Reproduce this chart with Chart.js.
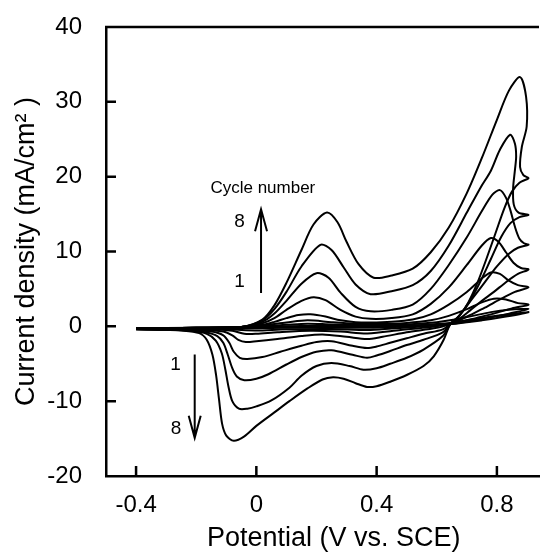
<!DOCTYPE html>
<html>
<head>
<meta charset="utf-8">
<script src="https://cdn.jsdelivr.net/npm/chart.js@4.4.1/dist/chart.umd.min.js"></script>
<style>
  html, body { margin: 0; padding: 0; background: #fff; }
  #wrap { width: 547px; height: 557px; }
</style>
</head>
<body>
<div id="wrap"><canvas id="cvChart" width="547" height="557"></canvas></div>
<script>
// potential (V vs. SCE), current density (mA/cm2) - one closed sweep per cycle
var cycle1 = [[-0.4,-0.25],[-0.2,-0.2],[0.0,-0.1],[0.1,0.0],[0.2,0.05],[0.4,0.05],[0.5,0.1],[0.6,0.3],[0.66,0.55],[0.72,0.9],[0.78,1.3],[0.84,1.6],[0.905,1.9],
  [0.83,1.3],[0.75,0.8],[0.645,0.3],[0.5,0.0],[0.37,-0.2],[0.2,-0.15],[0.0,-0.25],[-0.1,-0.25],[-0.4,-0.25]];
var cycle2 = [[-0.4,-0.3],[-0.2,-0.2],[-0.05,-0.1],[0.02,0.0],[0.1,0.2],[0.17,0.35],[0.25,0.25],[0.4,0.15],[0.5,0.25],[0.6,0.55],[0.66,0.9],[0.72,1.4],[0.78,1.9],[0.84,2.2],[0.905,2.3],
  [0.84,1.7],[0.77,1.1],[0.7,0.6],[0.645,0.3],[0.56,0.0],[0.45,-0.3],[0.37,-0.5],[0.25,-0.35],[0.1,-0.4],[0.0,-0.55],[-0.05,-0.5],[-0.12,-0.35],[-0.4,-0.3]];
var cycle3 = [[-0.4,-0.3],[-0.2,-0.2],[-0.05,-0.1],[0.02,0.1],[0.1,0.5],[0.17,0.8],[0.25,0.55],[0.33,0.35],[0.4,0.3],[0.5,0.45],[0.58,0.8],[0.64,1.4],[0.7,2.3],[0.75,3.2],[0.79,3.7],[0.83,3.6],[0.87,3.1],[0.905,2.9],
  [0.85,2.4],[0.79,1.7],[0.73,1.1],[0.68,0.6],[0.645,0.3],[0.58,-0.1],[0.48,-0.5],[0.37,-0.95],[0.28,-0.7],[0.18,-0.6],[0.07,-0.8],[0.0,-1.0],[-0.04,-1.0],[-0.08,-0.6],[-0.15,-0.4],[-0.4,-0.3]];
var cycle4 = [[-0.4,-0.3],[-0.2,-0.2],[-0.05,-0.1],[0.02,0.2],[0.06,0.6],[0.1,1.1],[0.14,1.5],[0.18,1.6],[0.23,1.3],[0.28,0.8],[0.33,0.55],[0.38,0.5],[0.45,0.6],[0.52,0.9],[0.58,1.6],[0.64,2.9],[0.7,4.6],[0.75,6.4],[0.78,7.2],[0.81,7.0],[0.84,6.1],[0.87,5.5],[0.905,5.2],
  [0.86,4.6],[0.81,3.6],[0.76,2.5],[0.71,1.5],[0.67,0.7],[0.645,0.3],[0.6,-0.2],[0.5,-0.8],[0.42,-1.4],[0.368,-1.7],[0.3,-1.4],[0.22,-1.1],[0.15,-1.3],[0.07,-1.7],[0.0,-2.0],[-0.035,-2.1],[-0.06,-1.8],[-0.08,-1.2],[-0.11,-0.7],[-0.18,-0.45],[-0.4,-0.35]];
var cycle5 = [[-0.4,-0.3],[-0.2,-0.2],[-0.05,-0.1],[0.02,0.4],[0.06,1.1],[0.1,2.2],[0.15,3.4],[0.19,3.9],[0.23,3.5],[0.28,2.2],[0.33,1.3],[0.38,1.0],[0.45,1.1],[0.52,1.6],[0.58,3.0],[0.64,5.2],[0.7,8.2],[0.75,10.8],[0.78,11.8],[0.805,11.3],[0.83,9.9],[0.855,8.5],[0.88,7.8],[0.905,7.6],
  [0.87,7.0],[0.83,5.9],[0.79,4.6],[0.75,3.4],[0.71,2.1],[0.675,1.0],[0.645,0.3],[0.62,-0.4],[0.556,-1.0],[0.5,-1.6],[0.445,-2.2],[0.4,-2.7],[0.368,-2.9],[0.32,-2.6],[0.25,-2.0],[0.2,-2.1],[0.15,-2.6],[0.08,-3.4],[0.02,-4.1],[-0.03,-4.35],[-0.055,-4.2],[-0.075,-3.4],[-0.09,-2.2],[-0.11,-1.2],[-0.15,-0.7],[-0.25,-0.45],[-0.4,-0.35]];
var cycle6 = [[-0.4,-0.3],[-0.2,-0.2],[-0.05,-0.1],[0.02,0.6],[0.06,1.7],[0.1,3.4],[0.15,5.7],[0.2,7.1],[0.24,6.5],[0.28,4.5],[0.33,2.6],[0.38,2.0],[0.45,2.2],[0.52,2.9],[0.58,5.0],[0.64,8.2],[0.7,11.9],[0.75,15.4],[0.785,17.6],[0.81,18.2],[0.83,17.2],[0.845,15.5],[0.86,13.3],[0.875,11.7],[0.89,11.1],[0.905,10.9],
  [0.87,10.5],[0.84,9.7],[0.8,8.0],[0.76,5.9],[0.72,3.8],[0.69,2.2],[0.665,1.0],[0.645,0.3],[0.62,-0.8],[0.556,-1.8],[0.5,-2.5],[0.445,-3.3],[0.4,-3.9],[0.368,-4.2],[0.32,-3.8],[0.25,-3.2],[0.2,-3.4],[0.15,-4.1],[0.1,-5.1],[0.04,-6.4],[0.0,-7.0],[-0.04,-7.2],[-0.065,-6.7],[-0.08,-5.6],[-0.095,-3.8],[-0.11,-2.2],[-0.13,-1.3],[-0.17,-0.8],[-0.25,-0.5],[-0.4,-0.4]];
var cycle7 = [[-0.4,-0.3],[-0.2,-0.25],[-0.05,-0.1],[0.02,0.8],[0.06,2.3],[0.1,4.6],[0.15,8.0],[0.213,10.9],[0.25,10.2],[0.29,7.9],[0.33,5.6],[0.38,4.3],[0.45,4.7],[0.52,5.5],[0.58,7.4],[0.64,10.8],[0.7,15.2],[0.745,18.5],[0.78,20.8],[0.81,23.6],[0.844,25.6],[0.86,24.4],[0.864,22.7],[0.86,20.9],[0.854,18.5],[0.856,16.3],[0.872,15.2],[0.905,14.9],
  [0.875,14.6],[0.845,13.8],[0.815,12.0],[0.78,9.0],[0.745,6.0],[0.71,3.4],[0.675,1.4],[0.645,0.3],[0.62,-1.3],[0.556,-3.1],[0.5,-4.2],[0.445,-5.0],[0.4,-5.6],[0.356,-5.8],[0.31,-5.3],[0.25,-4.9],[0.2,-5.3],[0.15,-6.6],[0.11,-8.2],[0.05,-9.9],[0.0,-10.7],[-0.03,-11.0],[-0.058,-11.0],[-0.08,-10.0],[-0.093,-8.0],[-0.103,-5.8],[-0.115,-3.6],[-0.135,-1.9],[-0.165,-1.0],[-0.22,-0.6],[-0.3,-0.45],[-0.4,-0.4]];
var cycle8 = [[-0.4,-0.3],[-0.2,-0.25],[-0.05,-0.1],[0.02,0.9],[0.06,2.8],[0.1,5.8],[0.15,10.2],[0.19,13.6],[0.235,15.2],[0.27,13.9],[0.3,11.3],[0.34,8.3],[0.39,6.5],[0.45,6.8],[0.52,7.7],[0.58,9.9],[0.64,13.2],[0.7,17.8],[0.75,22.5],[0.8,27.6],[0.84,31.5],[0.877,33.3],[0.897,30.7],[0.899,26.7],[0.883,24.0],[0.877,21.3],[0.888,20.2],[0.905,19.8],
  [0.875,19.2],[0.85,18.0],[0.825,15.8],[0.795,12.4],[0.765,9.0],[0.735,5.8],[0.705,3.2],[0.675,1.4],[0.645,0.3],[0.623,-1.8],[0.59,-4.0],[0.556,-5.3],[0.5,-6.5],[0.445,-7.4],[0.4,-8.0],[0.368,-8.1],[0.33,-7.6],[0.29,-7.0],[0.255,-6.8],[0.22,-7.1],[0.17,-8.3],[0.11,-10.0],[0.06,-11.5],[0.0,-13.3],[-0.04,-14.7],[-0.075,-15.3],[-0.1,-14.6],[-0.114,-13.0],[-0.124,-9.8],[-0.134,-6.5],[-0.146,-3.8],[-0.165,-1.8],[-0.19,-0.9],[-0.25,-0.55],[-0.32,-0.45],[-0.4,-0.4]];

var cycles = [cycle1, cycle2, cycle3, cycle4, cycle5, cycle6, cycle7, cycle8];
var xTicks = [-0.4, 0, 0.4, 0.8];
var yTicks = [-20, -10, 0, 10, 20, 30, 40];

var fontFam = "'Liberation Sans', Arial, sans-serif";

// frame top line, inward ticks, cycle-number arrows
var extras = {
  id: 'extras',
  afterDraw: function(chart) {
    var ctx = chart.ctx, a = chart.chartArea;
    var x = chart.scales.x, y = chart.scales.y;
    ctx.save();
    ctx.strokeStyle = '#000';
    ctx.lineWidth = 2.5;
    ctx.beginPath();
    ctx.moveTo(a.left - 1, a.top);
    ctx.lineTo(a.right, a.top);
    xTicks.forEach(function(v) {
      var px = x.getPixelForValue(v);
      ctx.moveTo(px, a.bottom);
      ctx.lineTo(px, a.bottom - 10);
    });
    yTicks.forEach(function(v) {
      if (v <= -20 || v >= 40) return;
      var py = y.getPixelForValue(v);
      ctx.moveTo(a.left, py);
      ctx.lineTo(a.left + 10, py);
    });
    ctx.stroke();

    function arrow(xv, y0, y1) {
      var px = x.getPixelForValue(xv), p0 = y.getPixelForValue(y0), p1 = y.getPixelForValue(y1);
      var dir = p1 < p0 ? 1 : -1;
      ctx.lineWidth = 2;
      ctx.beginPath();
      ctx.moveTo(px, p0); ctx.lineTo(px, p1);
      ctx.moveTo(px - 6, p1 + dir * 22); ctx.lineTo(px, p1); ctx.lineTo(px + 6, p1 + dir * 22);
      ctx.stroke();
    }
    arrow(0.0156, 4.45, 15.65);
    arrow(-0.205, -3.77, -14.9);

    ctx.fillStyle = '#000';
    ctx.textAlign = 'center';
    ctx.textBaseline = 'middle';
    ctx.font = '17px ' + fontFam;
    ctx.fillText('Cycle number', x.getPixelForValue(0.0216), y.getPixelForValue(18.4));
    ctx.font = '19px ' + fontFam;
    ctx.fillText('8', x.getPixelForValue(-0.056), y.getPixelForValue(14.0));
    ctx.fillText('1', x.getPixelForValue(-0.056), y.getPixelForValue(5.9));
    ctx.fillText('1', x.getPixelForValue(-0.269), y.getPixelForValue(-5.1));
    ctx.fillText('8', x.getPixelForValue(-0.2675), y.getPixelForValue(-13.7));
    ctx.restore();
  }
};

var datasets = cycles.map(function(c, i) {
  return {
    label: 'Cycle ' + (i + 1),
    data: c.map(function(p) { return {x: p[0], y: p[1]}; }),
    showLine: true,
    borderColor: '#000',
    borderWidth: 2,
    pointRadius: 0,
    tension: 0.3,
    fill: false
  };
});

var ctx = document.getElementById('cvChart').getContext('2d');
var cvChart = new Chart(ctx, {
  type: 'scatter',
  data: { datasets: datasets },
  plugins: [extras],
  options: {
    responsive: false,
    animation: false,
    layout: { padding: { top: 27, right: 8, bottom: 0, left: 0 } },
    plugins: { legend: { display: false }, tooltip: { enabled: false } },
    scales: {
      x: {
        type: 'linear',
        min: -0.5,
        max: 0.94,
        afterBuildTicks: function(s) { s.ticks = xTicks.map(function(v) { return {value: v}; }); },
        afterFit: function(s) { s.height = 81; s.paddingLeft = 0; s.paddingRight = 0; },
        ticks: {
          color: '#000',
          font: { family: fontFam, size: 24 },
          padding: 15,
          maxRotation: 0,
          callback: function(v) { return v === 0 ? '0' : v.toFixed(1); }
        },
        grid: { display: false, drawTicks: false },
        border: { display: true, color: '#000', width: 2.5 },
        title: {
          display: true,
          text: '   Potential (V vs. SCE)',
          color: '#000',
          font: { family: fontFam, size: 27 },
          padding: { top: 0, bottom: 2 }
        }
      },
      y: {
        type: 'linear',
        min: -20,
        max: 40,
        afterBuildTicks: function(s) { s.ticks = yTicks.map(function(v) { return {value: v}; }); },
        afterFit: function(s) { s.width = 106; s.paddingTop = 0; s.paddingBottom = 0; },
        ticks: {
          color: '#000',
          font: { family: fontFam, size: 24 },
          padding: 24
        },
        grid: { display: false, drawTicks: false },
        border: { display: true, color: '#000', width: 2.5 },
        title: {
          display: true,
          text: 'Current density (mA/cm\u00B2 )',
          color: '#000',
          font: { family: fontFam, size: 27 },
          padding: { top: 10, bottom: 0 }
        }
      }
    }
  }
});
</script>
</body>
</html>
